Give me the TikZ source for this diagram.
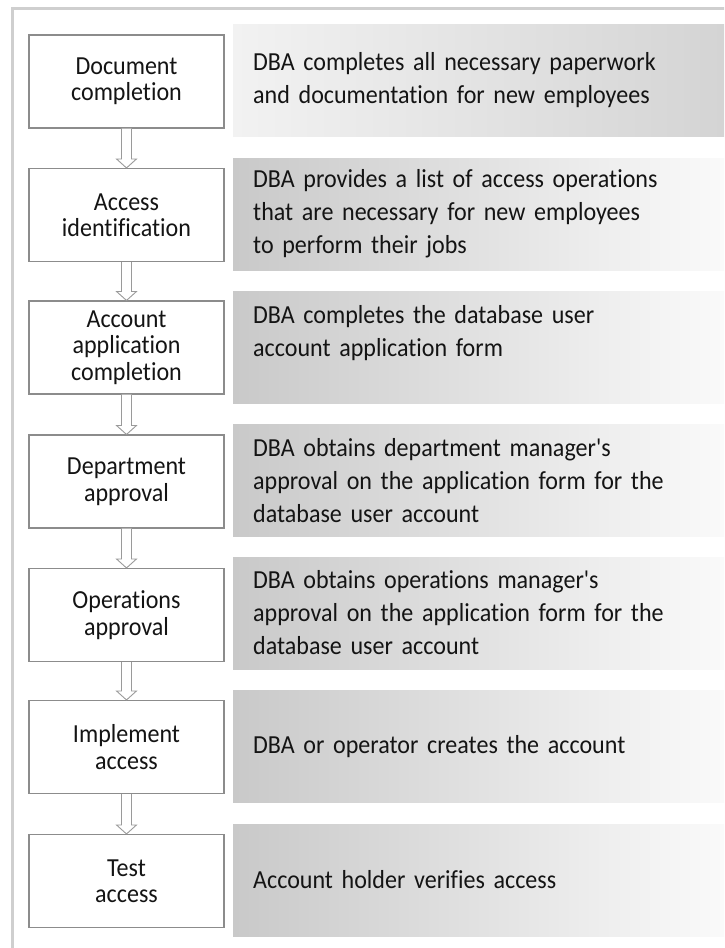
\documentclass[tikz,border=0pt]{standalone}
\usepackage{fontspec}
\setmainfont{Carlito}[FakeStretch=0.925, WordSpace=0.8, Ligatures={TeXOff,NoCommon}]
\usetikzlibrary{calc}
\definecolor{framegray}{HTML}{CFCFCF}
\definecolor{boxgray}{HTML}{8C8C8C}
\definecolor{arrowgray}{HTML}{9A9A9A}
\definecolor{txt}{HTML}{141414}
\definecolor{pdark}{HTML}{C9C9C9}
\definecolor{plight}{HTML}{FAFAFA}
\definecolor{pfirstl}{HTML}{F2F2F2}
\definecolor{pfirstr}{HTML}{D4D4D4}
\begin{document}
\begin{tikzpicture}[x=1pt,y=-1pt,
  stepbox/.style={draw=boxgray, line width=1.1pt, fill=white,
    minimum width=195pt, minimum height=93pt, inner sep=0pt,
    align=center, text=txt, font=\fontsize{26}{26.5}\selectfont},
  panel/.style={anchor=west, minimum width=491pt, minimum height=112pt,
    inner xsep=20pt, inner ysep=0pt, text width=451pt, align=left,
    text=txt, font=\fontsize{26}{33}\selectfont,
    left color=pdark, right color=plight, draw=none},
  panelfirst/.style={panel, left color=pfirstl, right color=pfirstr},
  blockarr/.style={draw=arrowgray, line width=0.9pt, fill=white, line join=miter}
]
\useasboundingbox (0,0) rectangle (724,948);
\clip (0,0) rectangle (724,948);
\fill[white] (0,0) rectangle (724,948);
\draw[framegray, line width=2.8pt] (12.5,960) -- (12.5,8.7) -- (740,8.7);

% process boxes
\node[stepbox] (b1) at (126.5,81.5) {Document\\completion};
\node[stepbox] (b2) at (126.5,215) {Access\\identification};
\node[stepbox] (b3) at (126.5,347.5) {Account\\application\\completion};
\node[stepbox] (b4) at (126.5,481.5) {Department\\approval};
\node[stepbox] (b5) at (126.5,615) {Operations\\approval};
\node[stepbox] (b6) at (126.5,747) {Implement\\access};
\node[stepbox] (b7) at (126.5,881) {Test\\access};

% description panels
\node[panelfirst] (p1) at (233,80.5) {DBA completes all necessary paperwork\\and documentation for new employees};
\node[panel] (p2) at (233,214) {DBA provides a list of access operations\\that are necessary for new employees\\to perform their jobs};
\node[panel] (p3) at (233,347) {DBA completes the database user\\account application form\\\mbox{}};
\node[panel] (p4) at (233,480.5) {DBA obtains department manager's\\approval on the application form for the\\database user account};
\node[panel] (p5) at (233,613) {DBA obtains operations manager's\\approval on the application form for the\\database user account};
\node[panel] (p6) at (233,746.5) {DBA or operator creates the account};
\node[panel] (p7) at (233,880) {Account holder verifies access};

% hollow block arrows
\foreach \a/\b in {b1/b2,b2/b3,b3/b4,b4/b5,b5/b6,b6/b7}{
  \draw[blockarr] ($(\a.south)+(-5,0)$) -- ($(\b.north)+(-5,-9)$)
    -- ($(\b.north)+(-10,-9)$) -- (\b.north) -- ($(\b.north)+(10,-9)$)
    -- ($(\b.north)+(5,-9)$) -- ($(\a.south)+(5,0)$);
}
\end{tikzpicture}
\end{document}
